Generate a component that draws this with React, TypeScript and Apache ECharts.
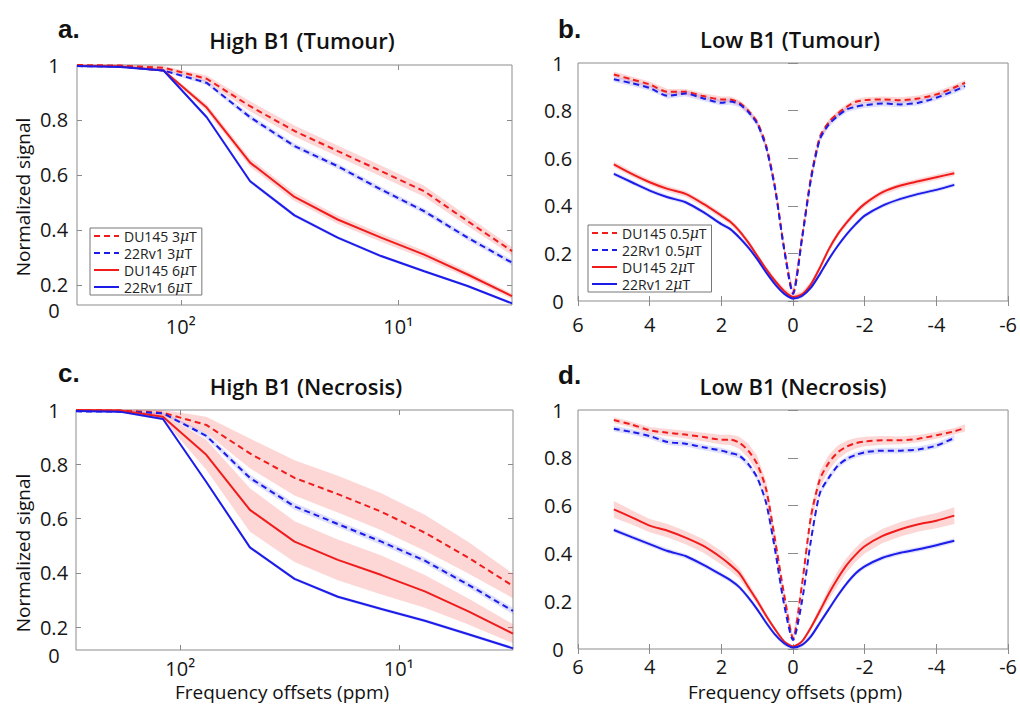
import { useEffect, useRef } from 'react';
import * as echarts from 'echarts';

const RED = '#f01c1c';
const BLUE = '#1c1ce8';
const RED_BAND = 'rgba(245, 70, 70, 0.22)';
const BLUE_BAND = 'rgba(70, 70, 245, 0.18)';
const TXT = '#161616';
const TICK = '#8a8a8a';
const FONT = '"Open Sans", "Noto Sans", sans-serif';

// ---------- High B1 (log-spaced offsets, ppm) ----------
const highOffsets = [300, 190, 120, 76, 48, 30, 19, 12, 7.6, 4.8, 3];

// a. High B1 (Tumour)
const tumourHighDU145_3 = [1.0, 0.998, 0.99, 0.95, 0.85, 0.76, 0.687, 0.614, 0.541, 0.432, 0.323];
const tumourHighDU145_3_sd = [0.003, 0.004, 0.006, 0.012, 0.018, 0.02, 0.02, 0.02, 0.02, 0.018, 0.015];
const tumourHigh22Rv1_3 = [0.996, 0.995, 0.98, 0.935, 0.81, 0.705, 0.632, 0.547, 0.468, 0.372, 0.281];
const tumourHigh22Rv1_3_sd = [0.002, 0.003, 0.005, 0.008, 0.01, 0.01, 0.01, 0.01, 0.01, 0.01, 0.01];
const tumourHighDU145_6 = [0.996, 0.995, 0.98, 0.845, 0.645, 0.52, 0.438, 0.372, 0.31, 0.238, 0.159];
const tumourHighDU145_6_sd = [0.002, 0.003, 0.005, 0.012, 0.015, 0.015, 0.015, 0.015, 0.014, 0.012, 0.01];
const tumourHigh22Rv1_6 = [0.996, 0.993, 0.98, 0.81, 0.577, 0.453, 0.372, 0.305, 0.25, 0.196, 0.133];
const tumourHigh22Rv1_6_sd = [0.002, 0.002, 0.004, 0.006, 0.007, 0.007, 0.006, 0.006, 0.005, 0.005, 0.005];

// c. High B1 (Necrosis)
const necrosisHighDU145_3 = [1.0, 0.998, 0.99, 0.945, 0.84, 0.75, 0.69, 0.625, 0.548, 0.456, 0.352];
const necrosisHighDU145_3_sd = [0.003, 0.005, 0.01, 0.03, 0.055, 0.065, 0.068, 0.068, 0.066, 0.058, 0.045];
const necrosisHigh22Rv1_3 = [0.995, 0.994, 0.988, 0.905, 0.75, 0.645, 0.58, 0.515, 0.445, 0.356, 0.26];
const necrosisHigh22Rv1_3_sd = [0.002, 0.003, 0.005, 0.01, 0.012, 0.012, 0.012, 0.012, 0.012, 0.012, 0.012];
const necrosisHighDU145_6 = [1.0, 0.998, 0.975, 0.835, 0.632, 0.515, 0.448, 0.392, 0.332, 0.258, 0.176];
const necrosisHighDU145_6_sd = [0.003, 0.005, 0.01, 0.055, 0.08, 0.075, 0.075, 0.072, 0.06, 0.048, 0.035];
const necrosisHigh22Rv1_6 = [0.996, 0.994, 0.967, 0.735, 0.494, 0.378, 0.312, 0.267, 0.224, 0.174, 0.122];
const necrosisHigh22Rv1_6_sd = [0.002, 0.003, 0.005, 0.006, 0.006, 0.006, 0.006, 0.006, 0.006, 0.006, 0.006];

// ---------- Low B1 (Z-spectra offsets, ppm) ----------
const zOffsets = [5, 4.5, 4, 3.5, 3, 2.5, 2, 1.75, 1.5, 1.25, 1, 0.75, 0.5, 0.25, 0,
  -0.25, -0.5, -0.75, -1, -1.25, -1.5, -1.75, -2, -2.5, -3, -3.5, -4, -4.5, -4.8];

// b. Low B1 (Tumour)
const tumourLowDU145_05 = [0.952, 0.931, 0.91, 0.879, 0.879, 0.861, 0.847, 0.847, 0.833, 0.8, 0.752, 0.654, 0.478, 0.225, 0.035,
  0.267, 0.52, 0.69, 0.752, 0.788, 0.816, 0.837, 0.844, 0.847, 0.844, 0.851, 0.868, 0.897, 0.917];
const tumourLowDU145_05_sd = [0.012];
const tumourLow22Rv1_05 = [0.932, 0.915, 0.895, 0.862, 0.872, 0.851, 0.833, 0.838, 0.827, 0.795, 0.745, 0.645, 0.47, 0.218, 0.03,
  0.26, 0.51, 0.68, 0.742, 0.778, 0.805, 0.816, 0.823, 0.83, 0.826, 0.833, 0.854, 0.883, 0.903];
const tumourLow22Rv1_05_sd = [0.012];
const tumourLowDU145_2 = [0.574, 0.534, 0.499, 0.471, 0.45, 0.408, 0.359, 0.333, 0.295, 0.246, 0.19, 0.134, 0.084, 0.042, 0.017,
  0.028, 0.07, 0.14, 0.218, 0.281, 0.33, 0.373, 0.408, 0.457, 0.485, 0.503, 0.52, 0.537];
const tumourLowDU145_2_sd = [0.012];
const tumourLow22Rv1_2 = [0.534, 0.499, 0.464, 0.436, 0.415, 0.373, 0.323, 0.302, 0.267, 0.225, 0.176, 0.12, 0.07, 0.031, 0.011,
  0.021, 0.056, 0.113, 0.176, 0.232, 0.281, 0.323, 0.359, 0.401, 0.429, 0.45, 0.467, 0.488];
const tumourLow22Rv1_2_sd = [0.009];

// d. Low B1 (Necrosis)
const necrosisLowDU145_05 = [0.958, 0.939, 0.915, 0.905, 0.897, 0.887, 0.876, 0.876, 0.863, 0.83, 0.774, 0.668, 0.455, 0.229, 0.045,
  0.27, 0.554, 0.71, 0.78, 0.823, 0.847, 0.861, 0.868, 0.873, 0.873, 0.88, 0.894, 0.911, 0.925];
const necrosisLowDU145_05_sd = [0.012, 0.012, 0.014, 0.015, 0.016, 0.018, 0.02, 0.022, 0.025, 0.03, 0.035, 0.035, 0.03, 0.02, 0.01,
  0.02, 0.03, 0.035, 0.032, 0.028, 0.025, 0.022, 0.02, 0.018, 0.016, 0.015, 0.014, 0.014, 0.015];
const necrosisLow22Rv1_05 = [0.922, 0.908, 0.891, 0.866, 0.859, 0.844, 0.83, 0.82, 0.809, 0.774, 0.717, 0.611, 0.413, 0.187, 0.038,
  0.2, 0.455, 0.653, 0.717, 0.767, 0.795, 0.812, 0.823, 0.83, 0.83, 0.835, 0.851, 0.883];
const necrosisLow22Rv1_05_sd = [0.012];
const necrosisLowDU145_2 = [0.584, 0.551, 0.516, 0.495, 0.466, 0.431, 0.382, 0.352, 0.317, 0.26, 0.202, 0.139, 0.082, 0.032, 0.01,
  0.032, 0.09, 0.16, 0.232, 0.296, 0.352, 0.395, 0.43, 0.473, 0.501, 0.522, 0.537, 0.558];
const necrosisLowDU145_2_sd = [0.035, 0.03, 0.028, 0.028, 0.028, 0.028, 0.028, 0.025, 0.022, 0.018, 0.015, 0.012, 0.008, 0.005, 0.003,
  0.005, 0.01, 0.018, 0.025, 0.03, 0.03, 0.03, 0.03, 0.03, 0.03, 0.03, 0.032, 0.035];
const necrosisLow22Rv1_2 = [0.498, 0.468, 0.439, 0.41, 0.389, 0.352, 0.31, 0.288, 0.259, 0.216, 0.166, 0.11, 0.06, 0.024, 0.006,
  0.017, 0.053, 0.11, 0.167, 0.224, 0.275, 0.317, 0.346, 0.382, 0.403, 0.417, 0.434, 0.453];
const necrosisLow22Rv1_2_sd = [0.01];

const legendHigh = ['DU145 3μT', '22Rv1 3μT', 'DU145 6μT', '22Rv1 6μT'];
const legendLow = ['DU145 0.5μT', '22Rv1 0.5μT', 'DU145 2μT', '22Rv1 2μT'];

const grids = [
  { left: 77, top: 65, width: 435, height: 240 },
  { left: 578, top: 63, width: 432, height: 238 },
  { left: 76, top: 410, width: 437, height: 240 },
  { left: 578, top: 410, width: 434, height: 239 },
];

function sdAt(sd: number[], i: number) {
  return sd.length === 1 ? sd[0] : sd[i];
}

function lineSeries(gi: number, name: string, xs: number[], ys: number[], color: string, dashed: boolean, smooth: number | boolean) {
  return {
    type: 'line',
    name,
    xAxisIndex: gi * 2,
    yAxisIndex: gi * 2,
    data: ys.map((y, i) => [xs[i], y]),
    symbol: 'none',
    smooth,
    silent: true,
    z: 3,
    itemStyle: { color },
    lineStyle: { color, width: 2, type: dashed ? [6, 4] : 'solid' },
  };
}

function bandSeries(gi: number, xs: number[], ys: number[], sd: number[], fill: string) {
  const pts = ys.map((y, i) => [xs[i], y - sdAt(sd, i), y + sdAt(sd, i)]);
  return {
    type: 'custom',
    xAxisIndex: gi * 2,
    yAxisIndex: gi * 2,
    silent: true,
    z: 1,
    data: pts,
    encode: { x: 0, y: [1, 2] },
    renderItem: (params: any, api: any) => {
      if (params.dataIndex !== 0) return null;
      const poly: number[][] = [];
      for (let i = 0; i < pts.length; i++) poly.push(api.coord([pts[i][0], pts[i][2]]));
      for (let i = pts.length - 1; i >= 0; i--) poly.push(api.coord([pts[i][0], pts[i][1]]));
      return { type: 'polygon', shape: { points: poly, smooth: 0 }, style: { fill, stroke: 'none' } };
    },
  };
}

const tickStyle = { inside: true, length: 5, lineStyle: { color: TICK, width: 1 } };
const labelBase = { fontSize: 20, fontFamily: FONT, color: TXT };

function logXAxes(gi: number, margin: number) {
  const base = {
    type: 'log', gridIndex: gi, min: 3, max: 300, logBase: 10, inverse: true,
    splitLine: { show: false }, axisLine: { show: false }, minorTick: { show: false },
  };
  return [
    {
      ...base, position: 'bottom',
      axisTick: { ...tickStyle, customValues: [10, 100] },
      axisLabel: {
        ...labelBase, margin, customValues: [10, 100],
        formatter: (v: number) => (Math.round(Math.log10(v)) === 2 ? '10²' : '10¹'),
      },
    },
    { ...base, position: 'top', axisTick: { ...tickStyle, customValues: [10, 100] }, axisLabel: { show: false, customValues: [10, 100] } },
  ];
}

function linXAxes(gi: number, margin: number) {
  const base = {
    type: 'value', gridIndex: gi, min: -6, max: 6, interval: 2, inverse: true,
    splitLine: { show: false }, axisLine: { show: false },
  };
  return [
    { ...base, position: 'bottom', axisTick: tickStyle, axisLabel: { ...labelBase, margin } },
    { ...base, position: 'top', axisTick: tickStyle, axisLabel: { show: false } },
  ];
}

function truncYAxes(gi: number, min: number, margin: number) {
  const base = {
    type: 'value', gridIndex: gi, min, max: 1,
    splitLine: { show: false }, axisLine: { show: false },
  };
  const ticks = [0.2, 0.4, 0.6, 0.8];
  return [
    {
      ...base, position: 'left',
      axisTick: { ...tickStyle, customValues: ticks },
      axisLabel: {
        ...labelBase, margin, align: 'center', customValues: [min, 0.2, 0.4, 0.6, 0.8, 1],
        formatter: (v: number) => (v < 0.15 ? '{z|0}' : String(Math.round(v * 10) / 10)),
        rich: { z: { fontSize: 20, fontFamily: FONT, color: TXT, padding: [10, 0, 0, 0] } },
      },
    },
    { ...base, position: 'right', axisTick: { ...tickStyle, customValues: ticks }, axisLabel: { show: false, customValues: ticks } },
  ];
}

function fullYAxes(gi: number, margin: number) {
  const base = {
    type: 'value', gridIndex: gi, min: 0, max: 1, interval: 0.2,
    splitLine: { show: false }, axisLine: { show: false },
  };
  return [
    { ...base, position: 'left', axisTick: tickStyle, axisLabel: { ...labelBase, margin, align: 'center' } },
    { ...base, position: 'right', axisTick: tickStyle, axisLabel: { show: false } },
  ];
}

function legendFor(names: string[], left: number, top: number) {
  return {
    data: names,
    orient: 'vertical',
    left, top,
    itemWidth: 25, itemHeight: 14, itemGap: 3,
    padding: [1, 5, 1, 3],
    borderColor: '#777', borderWidth: 1, borderRadius: 0,
    backgroundColor: '#fff',
    selectedMode: false,
    itemStyle: { opacity: 0 },
    formatter: (n: string) => n.replace('μ', '{mu|μ}'),
    textStyle: {
      fontSize: 14, lineHeight: 14, fontFamily: FONT, color: '#222',
      rich: { mu: { fontSize: 14, lineHeight: 14, fontStyle: 'italic', fontFamily: '"DejaVu Serif", serif', color: '#222' } },
    },
  };
}

function txt(text: string, x: number, y: number, font: string, extra: any = {}) {
  return {
    type: 'text', x, y, silent: true, ...extra,
    style: { text, font, fill: '#111', textAlign: 'center', textVerticalAlign: 'middle', verticalAlign: 'middle', ...(extra.style || {}) },
  };
}

export default function App() {
  const ref = useRef<HTMLDivElement>(null);
  useEffect(() => {
    if (!ref.current) return;
    const chart = echarts.init(ref.current, undefined, { renderer: 'svg' });
    const series: any[] = [
      // a
      bandSeries(0, highOffsets, tumourHighDU145_3, tumourHighDU145_3_sd, RED_BAND),
      bandSeries(0, highOffsets, tumourHigh22Rv1_3, tumourHigh22Rv1_3_sd, BLUE_BAND),
      bandSeries(0, highOffsets, tumourHighDU145_6, tumourHighDU145_6_sd, RED_BAND),
      bandSeries(0, highOffsets, tumourHigh22Rv1_6, tumourHigh22Rv1_6_sd, BLUE_BAND),
      lineSeries(0, legendHigh[0], highOffsets, tumourHighDU145_3, RED, true, false),
      lineSeries(0, legendHigh[1], highOffsets, tumourHigh22Rv1_3, BLUE, true, false),
      lineSeries(0, legendHigh[2], highOffsets, tumourHighDU145_6, RED, false, false),
      lineSeries(0, legendHigh[3], highOffsets, tumourHigh22Rv1_6, BLUE, false, false),
      // b
      bandSeries(1, zOffsets, tumourLowDU145_05, tumourLowDU145_05_sd, RED_BAND),
      bandSeries(1, zOffsets, tumourLow22Rv1_05, tumourLow22Rv1_05_sd, BLUE_BAND),
      bandSeries(1, zOffsets, tumourLowDU145_2, tumourLowDU145_2_sd, RED_BAND),
      bandSeries(1, zOffsets, tumourLow22Rv1_2, tumourLow22Rv1_2_sd, BLUE_BAND),
      lineSeries(1, legendLow[0], zOffsets, tumourLowDU145_05, RED, true, 0.25),
      lineSeries(1, legendLow[1], zOffsets, tumourLow22Rv1_05, BLUE, true, 0.25),
      lineSeries(1, legendLow[2], zOffsets, tumourLowDU145_2, RED, false, 0.25),
      lineSeries(1, legendLow[3], zOffsets, tumourLow22Rv1_2, BLUE, false, 0.25),
      // c
      bandSeries(2, highOffsets, necrosisHighDU145_3, necrosisHighDU145_3_sd, RED_BAND),
      bandSeries(2, highOffsets, necrosisHigh22Rv1_3, necrosisHigh22Rv1_3_sd, BLUE_BAND),
      bandSeries(2, highOffsets, necrosisHighDU145_6, necrosisHighDU145_6_sd, RED_BAND),
      bandSeries(2, highOffsets, necrosisHigh22Rv1_6, necrosisHigh22Rv1_6_sd, BLUE_BAND),
      lineSeries(2, legendHigh[0], highOffsets, necrosisHighDU145_3, RED, true, false),
      lineSeries(2, legendHigh[1], highOffsets, necrosisHigh22Rv1_3, BLUE, true, false),
      lineSeries(2, legendHigh[2], highOffsets, necrosisHighDU145_6, RED, false, false),
      lineSeries(2, legendHigh[3], highOffsets, necrosisHigh22Rv1_6, BLUE, false, false),
      // d
      bandSeries(3, zOffsets, necrosisLowDU145_05, necrosisLowDU145_05_sd, RED_BAND),
      bandSeries(3, zOffsets, necrosisLow22Rv1_05, necrosisLow22Rv1_05_sd, BLUE_BAND),
      bandSeries(3, zOffsets, necrosisLowDU145_2, necrosisLowDU145_2_sd, RED_BAND),
      bandSeries(3, zOffsets, necrosisLow22Rv1_2, necrosisLow22Rv1_2_sd, BLUE_BAND),
      lineSeries(3, legendLow[0], zOffsets, necrosisLowDU145_05, RED, true, 0.25),
      lineSeries(3, legendLow[1], zOffsets, necrosisLow22Rv1_05, BLUE, true, 0.25),
      lineSeries(3, legendLow[2], zOffsets, necrosisLowDU145_2, RED, false, 0.25),
      lineSeries(3, legendLow[3], zOffsets, necrosisLow22Rv1_2, BLUE, false, 0.25),
    ];

    const titleFont = `600 22px ${FONT}`;
    const letterFont = 'bold 26px "Liberation Sans", Arial, sans-serif';
    const nameFont = `19px ${FONT}`;

    chart.setOption({
      animation: false,
      backgroundColor: '#ffffff',
      grid: grids.map((g) => ({ ...g, show: true, borderColor: '#8c8c8c', borderWidth: 1, backgroundColor: '#fff', containLabel: false })),
      xAxis: [...logXAxes(0, 11), ...linXAxes(1, 13), ...logXAxes(2, 8), ...linXAxes(3, 7)],
      yAxis: [...truncYAxes(0, 0.127, 23), ...fullYAxes(1, 20), ...truncYAxes(2, 0.116, 22), ...fullYAxes(3, 20)],
      legend: [legendFor(legendHigh, 90, 228), legendFor(legendLow, 588, 225)],
      series,
      graphic: [
        txt('a.', 58, 29, letterFont, { style: { textAlign: 'left' } }),
        txt('b.', 558, 29, letterFont, { style: { textAlign: 'left' } }),
        txt('c.', 58, 373, letterFont, { style: { textAlign: 'left' } }),
        txt('d.', 558, 375, letterFont, { style: { textAlign: 'left' } }),
        txt('High B1 (Tumour)', 302, 39.5, titleFont),
        txt('Low B1 (Tumour)', 790, 39, titleFont),
        txt('High B1 (Necrosis)', 306, 386, titleFont),
        txt('Low B1 (Necrosis)', 793, 386, titleFont),
        txt('Normalized signal', 23, 197, nameFont, { rotation: Math.PI / 2 }),
        txt('Normalized signal', 23, 553, nameFont, { rotation: Math.PI / 2 }),
        txt('Frequency offsets (ppm)', 282, 692, nameFont),
        txt('Frequency offsets (ppm)', 795, 692, nameFont),
      ],
    });
    return () => chart.dispose();
  }, []);
  return <div ref={ref} style={{ position: 'fixed', left: 0, top: 0, width: 1020, height: 706, background: '#fff' }} />;
}
